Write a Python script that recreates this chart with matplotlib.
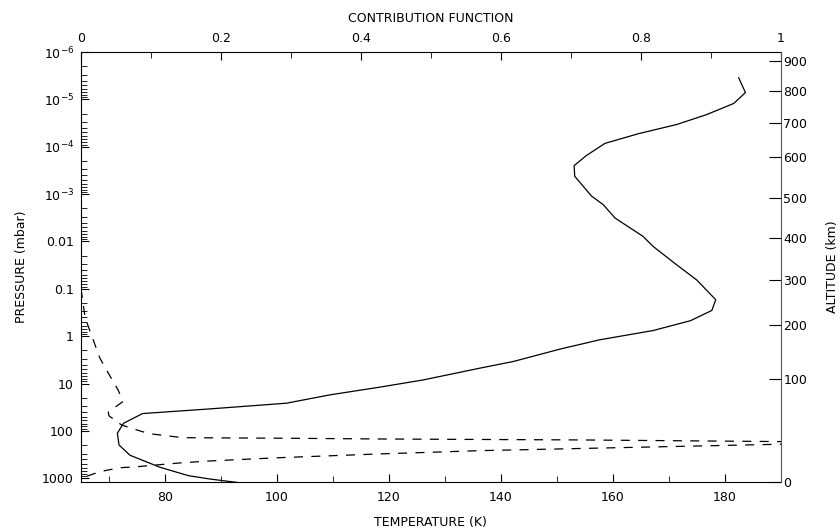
import matplotlib
matplotlib.use("Agg")
import matplotlib.pyplot as plt
import numpy as np

# temperature profile (K) vs pressure (mbar)
temp_k = [182.5, 183.7, 181.6, 176.8, 171.4, 164.6, 158.6, 155.3, 153.1, 153.2,
          156.2, 158.3, 160.4, 165.4, 167.2, 171.4, 175.0, 178.4, 177.7, 173.9,
          167.2, 157.7, 150.6, 142.2, 136.3, 126.1, 118.4, 109.5, 101.7, 88.0,
          76.0, 72.6, 71.5, 71.8, 73.75, 79.1, 84.2, 88.0, 93.5]
temp_p = [3.5e-6, 7.2e-6, 1.22e-5, 2.09e-5, 3.4e-5, 5.3e-5, 8.5e-5, 1.53e-4, 2.5e-4, 4.2e-4,
          1.1e-3, 1.67e-3, 3.2e-3, 7.8e-3, 0.0127, 0.031, 0.065, 0.17, 0.286, 0.47,
          0.76, 1.19, 1.87, 3.43, 4.72, 8.4, 11.9, 17.3, 26.0, 34.3,
          43.0, 69.0, 112.0, 198.0, 326.0, 585.0, 881.0, 1035.0, 1250.0]

# contribution function vs pressure (mbar)
cf_val = [0.0, 0.006, 0.013, 0.027, 0.039, 0.053, 0.060, 0.039, 0.040, 0.058,
          0.087, 0.101, 0.146, 0.30, 0.427, 0.713, 1.0, 1.15, 1.0, 0.713,
          0.57, 0.427, 0.284, 0.184, 0.146, 0.108, 0.080, 0.055, 0.027, 0.0]
cf_p = [0.1, 0.41, 0.79, 2.9, 6.0, 13.6, 24.0, 40.0, 48.0, 75.0,
        103.0, 116.0, 139.0, 143.0, 148.0, 155.0, 168.0, 178.0, 191.0, 235.0,
        261.0, 306.0, 367.0, 431.0, 468.0, 523.0, 570.0, 600.0, 725.0, 1000.0]

# altitude ticks (km) and the pressure (mbar) they sit at
alt_km = [0, 100, 200, 300, 400, 500, 600, 700, 800, 900]
alt_p = [1190.0, 8.07, 0.58, 0.066, 8.6e-3, 1.2e-3, 1.64e-4, 3.1e-5, 6.5e-6, 1.56e-6]

p_ticks = [1e-6, 1e-5, 1e-4, 1e-3, 1e-2, 1e-1, 1, 10, 100, 1000]
p_labels = [r'$10^{-6}$', r'$10^{-5}$', r'$10^{-4}$', r'$10^{-3}$',
            '0.01', '0.1', '1', '10', '100', '1000']

plt.rcParams['font.family'] = ['DejaVu Sans']
plt.rcParams['font.size'] = 9
plt.rcParams['mathtext.fontset'] = 'dejavusans'
plt.rcParams['lines.scale_dashes'] = False

fig = plt.figure(figsize=(8.4, 5.29), dpi=100)
ax = fig.add_axes([0.0964, 0.0883, 0.833, 0.8134])

ax.plot(temp_k, temp_p, color='black', lw=0.9)
ax.set_yscale('log')
ax.set_ylim(1215, 1e-6)
ax.set_xlim(65, 190)
ax.set_yticks(p_ticks)
ax.set_yticklabels(p_labels)
ax.set_xticks([80, 100, 120, 140, 160, 180])
ax.set_xticks(np.arange(70, 191, 10), minor=True)
ax.tick_params(axis='x', which='both', direction='in', top=False, pad=6)
ax.tick_params(axis='x', which='major', length=6)
ax.tick_params(axis='x', which='minor', length=4)
ax.tick_params(axis='y', which='both', direction='in', right=False, pad=5)
ax.tick_params(axis='y', which='major', length=6)
ax.tick_params(axis='y', which='minor', length=4)
ax.set_xlabel('TEMPERATURE (K)', labelpad=9)
ax.set_ylabel('PRESSURE (mbar)', labelpad=10)
ax.spines['right'].set_visible(False)
ax.spines['top'].set_visible(False)

# contribution function on the top axis
ax2 = ax.twiny()
ax2.plot(cf_val, cf_p, color='black', lw=0.9, dashes=(6.5, 6))
ax2.set_xlim(0, 1)
ax2.set_ylim(1215, 1e-6)
ax2.set_xticks(np.arange(0, 1.01, 0.2))
ax2.set_xticklabels(['0', '0.2', '0.4', '0.6', '0.8', '1'])
ax2.set_xticks(np.arange(0, 1.01, 0.1), minor=True)
ax2.tick_params(axis='x', which='both', direction='in', pad=5)
ax2.tick_params(axis='x', which='major', length=6)
ax2.tick_params(axis='x', which='minor', length=4)
ax2.set_xlabel('CONTRIBUTION FUNCTION', labelpad=7)
for s in ['left', 'right', 'bottom']:
    ax2.spines[s].set_visible(False)

# altitude on the right axis
ax3 = ax.twinx()
ax3.set_yscale('log')
ax3.set_ylim(1215, 1e-6)
ax3.set_yticks(alt_p)
ax3.set_yticklabels([str(a) for a in alt_km])
ax3.yaxis.set_minor_locator(matplotlib.ticker.NullLocator())
ax3.tick_params(axis='y', which='major', direction='in', length=9, pad=2)
ax3.set_ylabel('ALTITUDE (km)', labelpad=13)
ax3.spines['right'].set_color('#555555')
for s in ['left', 'top', 'bottom']:
    ax3.spines[s].set_visible(False)

fig.savefig('out.png', dpi=100)
